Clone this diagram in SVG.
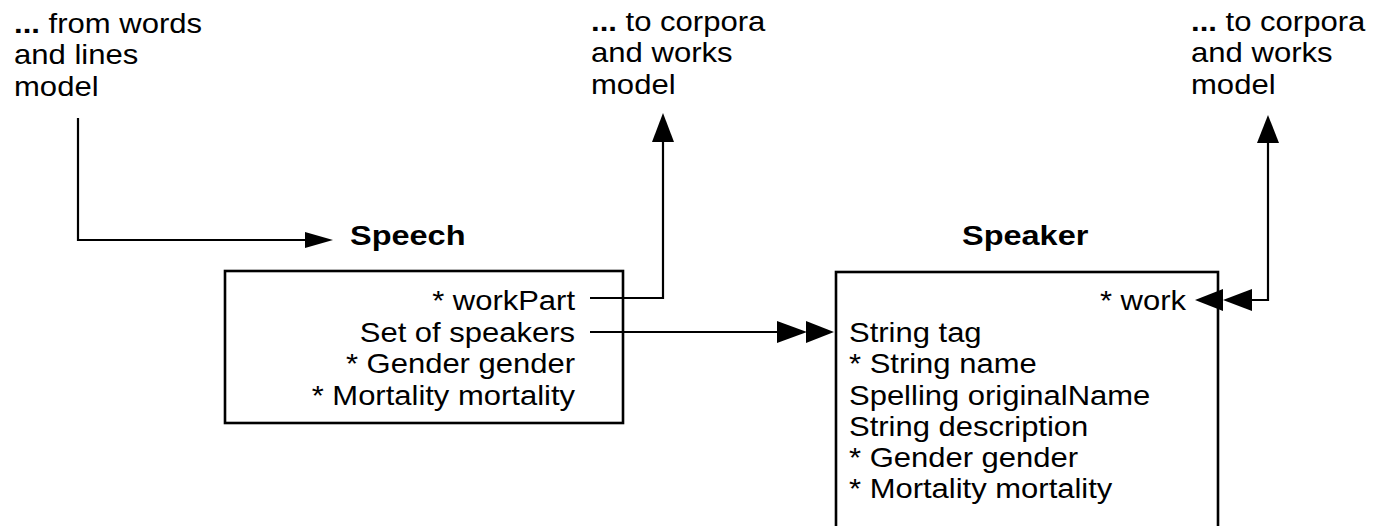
<svg xmlns="http://www.w3.org/2000/svg" width="1376" height="526" viewBox="0 0 1376 526">
<style>
text{font-family:"Liberation Sans",Arial,sans-serif;font-size:27.5px;fill:#000}
.b{font-weight:bold}
.t{font-weight:bold;font-size:28px}
.e{text-anchor:end}
.box{fill:#fff;stroke:#000;stroke-width:2.6}
.ln{fill:none;stroke:#000;stroke-width:2.2}
.ah{fill:#000;stroke:none}
</style>
<rect width="1376" height="526" fill="#fff"/>
<g id="note-words" transform="translate(14,0) scale(1.13,1)">
<text x="0" y="33"><tspan class="b">...</tspan> from words</text>
<text x="0" y="64">and lines</text>
<text x="0" y="96">model</text>
</g>
<g id="note-corpora-1" transform="translate(591,0) scale(1.13,1)">
<text x="0" y="31"><tspan class="b">...</tspan> to corpora</text>
<text x="0" y="62">and works</text>
<text x="0" y="94">model</text>
</g>
<g id="note-corpora-2" transform="translate(1191,0) scale(1.13,1)">
<text x="0" y="31"><tspan class="b">...</tspan> to corpora</text>
<text x="0" y="62">and works</text>
<text x="0" y="94">model</text>
</g>
<g id="speech">
<rect class="box" x="225" y="271" width="398" height="152"/>
<text class="t" transform="translate(350,0) scale(1.16,1)" x="0" y="245">Speech</text>
<g transform="translate(575,0) scale(1.127,1)">
<text class="e" x="0" y="310">* workPart</text>
<text class="e" x="0" y="342">Set of speakers</text>
<text class="e" x="0" y="373">* Gender gender</text>
<text class="e" x="0" y="405">* Mortality mortality</text>
</g>
</g>
<g id="speaker">
<rect class="box" x="836" y="272" width="382" height="270"/>
<text class="t" transform="translate(962,0) scale(1.16,1)" x="0" y="245">Speaker</text>
<g transform="translate(849,0) scale(1.127,1)">
<text class="e" x="299" y="310">* work</text>
<text x="0" y="342">String tag</text>
<text x="0" y="373">* String name</text>
<text x="0" y="405">Spelling originalName</text>
<text x="0" y="436">String description</text>
<text x="0" y="467">* Gender gender</text>
<text x="0" y="498">* Mortality mortality</text>
</g>
</g>
<g id="connectors">
<polyline class="ln" points="78,118 78,240 306,240"/>
<polygon class="ah" points="333,240 305,232 305,248"/>
<polyline class="ln" points="590,298 663,298 663,140"/>
<polygon class="ah" points="663,113 652,142 674,142"/>
<line class="ln" x1="590" y1="332" x2="780" y2="332"/>
<polygon class="ah" points="807,332 777,321 777,343"/>
<polygon class="ah" points="834,332 806,321 806,343"/>
<polyline class="ln" points="1250,300 1268,300 1268,140"/>
<polygon class="ah" points="1268,115 1257,143 1279,143"/>
<polygon class="ah" points="1195,300 1223,289 1223,311"/>
<polygon class="ah" points="1223,300 1252,289 1252,311"/>
</g>
</svg>
